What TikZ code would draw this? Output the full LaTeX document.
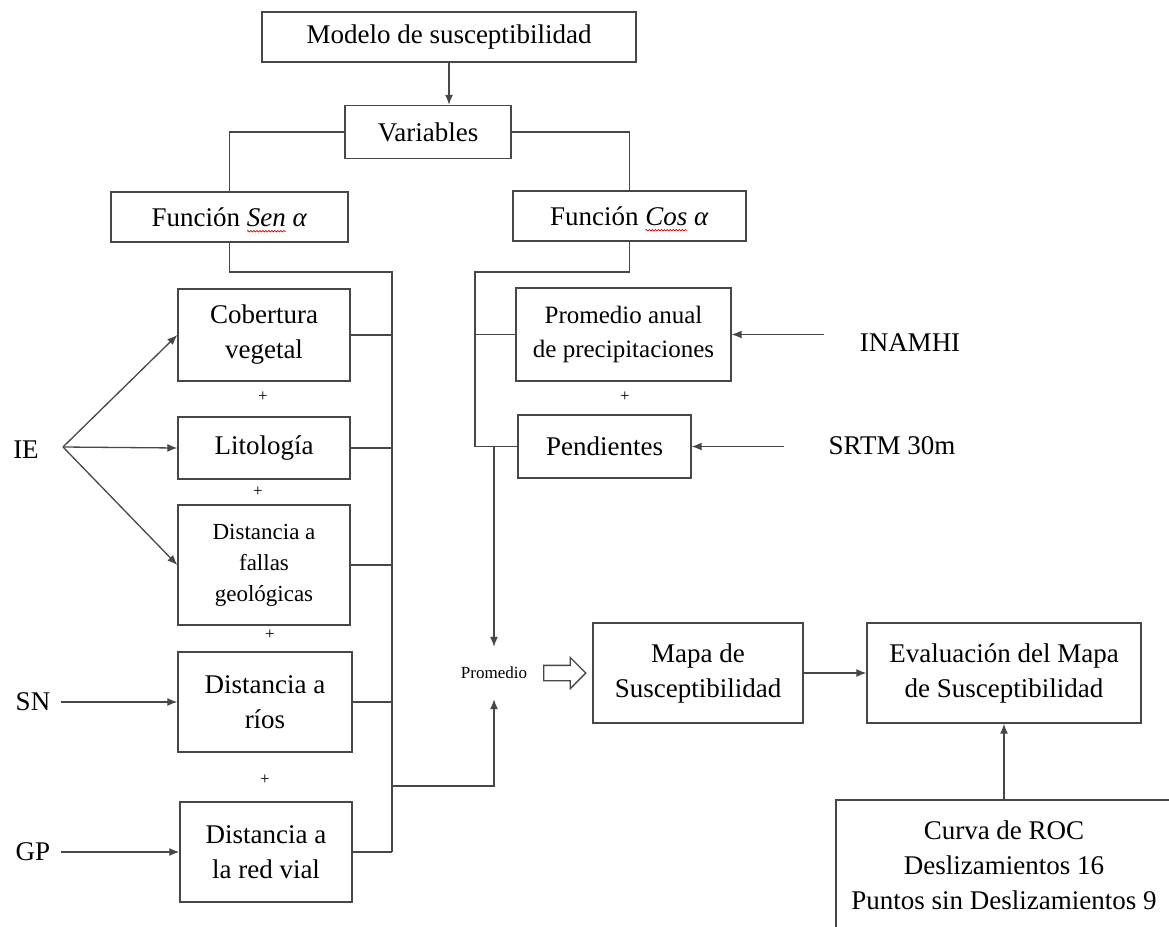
\documentclass[tikz,border=0pt]{standalone}
\usepackage{fontspec}
\setmainfont{Liberation Serif}
\usetikzlibrary{positioning,shapes,arrows,arrows.meta,decorations.pathmorphing}

\newlength\anchoFun
\newlength\anchoSen
\newlength\anchoCos
\newlength\totalSen
\newlength\totalCos

\begin{document}
\settowidth{\anchoFun}{\fontsize{27}{35}\selectfont Función\ }
\settowidth{\anchoSen}{\fontsize{27}{35}\selectfont\textit{Sen}}
\settowidth{\anchoCos}{\fontsize{27}{35}\selectfont\textit{Cos}}
\settowidth{\totalSen}{\fontsize{27}{35}\selectfont Función \textit{Sen α}}
\settowidth{\totalCos}{\fontsize{27}{35}\selectfont Función \textit{Cos α}}
\begin{tikzpicture}[
  x=1pt, y=-1pt,
  caja/.style={draw=black!72,line width=1.4pt,align=center,inner sep=0pt,font=\fontsize{27}{35}\selectfont},
  etiqueta/.style={font=\fontsize{27}{35}\selectfont},
  linea/.style={draw=black!72,line width=1.3pt},
  flecha/.style={linea,-{Latex[length=10pt,width=8pt]}},
  mas/.style={font=\fontsize{17}{20}\selectfont},
  ondas/.style={draw=red!85!black,line width=0.7pt,decorate,decoration={snake,amplitude=0.7pt,segment length=3pt}}
]
\useasboundingbox (0,0) rectangle (1169,926);
\clip (0,0) rectangle (1169,926);

\node[caja,minimum width=374pt,minimum height=50pt] (modelo) at (449,37) {Modelo de susceptibilidad};
\node[caja,minimum width=166pt,minimum height=53pt] (variables) at (428,132) {Variables};
\node[caja,minimum width=237pt,minimum height=50pt] (sen) at (229.5,217) {Función \textit{Sen α}};
\node[caja,minimum width=233pt,minimum height=50pt] (cos) at (629.5,216) {Función \textit{Cos α}};
% subrayado del corrector
\draw[ondas] ([xshift=-0.5\totalSen+\anchoFun,yshift=-5pt]sen.base) -- ++(\anchoSen,0);
\draw[ondas] ([xshift=-0.5\totalCos+\anchoFun,yshift=-5pt]cos.base) -- ++(\anchoCos,0);

% columna Sen
\node[caja,minimum width=172pt,minimum height=92pt] (cobertura) at (264,335) {Cobertura\\vegetal};
\node[caja,minimum width=172pt,minimum height=62pt] (litologia) at (264,448) {Litología};
\node[caja,minimum width=172pt,minimum height=120pt,font=\fontsize{23}{31}\selectfont] (fallas) at (264,565) {Distancia a\\fallas\\geológicas};
\node[caja,minimum width=174pt,minimum height=100pt] (rios) at (265,702) {Distancia a\\ríos};
\node[caja,minimum width=172pt,minimum height=100pt] (redvial) at (266,852) {Distancia a\\la red vial};
\node[mas] (mas1) at (263,397) {+};
\node[mas] (mas2) at (258,492) {+};
\node[mas] (mas3) at (270,635) {+};
\node[mas] (mas4) at (265,780) {+};

\node[etiqueta] (ie) at (26,450) {IE};
\node[etiqueta] (sn) at (33,702) {SN};
\node[etiqueta] (gp) at (33,852) {GP};
\coordinate (abanico) at (63,447);

% columna Cos
\node[caja,minimum width=215pt,minimum height=93pt,font=\fontsize{25}{34}\selectfont] (precip) at (623.5,334.5) {Promedio anual\\de precipitaciones};
\node[caja,minimum width=173pt,minimum height=63pt] (pendientes) at (604.5,446.5) {Pendientes};
\node[mas] (mas5) at (625,397) {+};
\node[etiqueta] (inamhi) at (910,343) {INAMHI};
\node[etiqueta] (srtm) at (892,446) {SRTM 30m};

% resultado
\node[font=\fontsize{17}{20}\selectfont,inner xsep=2pt,inner ysep=20pt] (promedio) at (494,673) {Promedio};
\node[single arrow,draw=black!72,line width=1.3pt,minimum height=42pt,inner xsep=0pt,inner ysep=7pt,
  single arrow head extend=8pt] (hueco) at (561,673) {};
\node[caja,minimum width=210pt,minimum height=100pt] (mapa) at (698,673) {Mapa de\\Susceptibilidad};
\node[caja,minimum width=274pt,minimum height=100pt] (evaluacion) at (1004,673) {Evaluación del Mapa\\de Susceptibilidad};
\node[caja,minimum width=336pt,minimum height=130pt] (curva) at (1004,865) {Curva de ROC\\Deslizamientos 16\\Puntos sin Deslizamientos 9};

\coordinate (busL) at (392,272);
\coordinate (busR) at (475,272);
\coordinate (bajada) at (392,786);

\draw[flecha] (modelo.south) -- (modelo.south |- variables.north);
\draw[linea] (variables.west) -| (sen.north);
\draw[linea] (variables.east) -| (cos.north);
\draw[linea] (sen.south) |- (busL) -- (busL |- redvial.east);
\foreach \n in {cobertura,litologia,fallas,rios,redvial}
  \draw[linea] (\n.east) -- (\n.east -| busL);
\draw[flecha] (bajada) -| (promedio.south);

\draw[linea] (cos.south) |- (busR) -- (busR |- pendientes.west) -- (pendientes.west);
\draw[linea] (busR |- precip.west) -- (precip.west);
\draw[flecha] (pendientes.west -| promedio.north) -- (promedio.north);

\path (abanico) edge[flecha] (cobertura.west)
  (abanico) edge[flecha] (litologia.west)
  (abanico) edge[flecha] (fallas.west);
\draw[flecha,shorten <=7pt] (sn.east) -- (rios.west);
\draw[flecha,shorten <=7pt] (gp.east) -- (redvial.west);
\draw[flecha,shorten <=32pt] (inamhi.west |- precip.east) -- (precip.east);
\draw[flecha,shorten <=41pt] (srtm.west |- pendientes.east) -- (pendientes.east);

\draw[flecha] (mapa) -- (evaluacion);
\draw[flecha] (curva) -- (evaluacion);

\end{tikzpicture}
\end{document}
